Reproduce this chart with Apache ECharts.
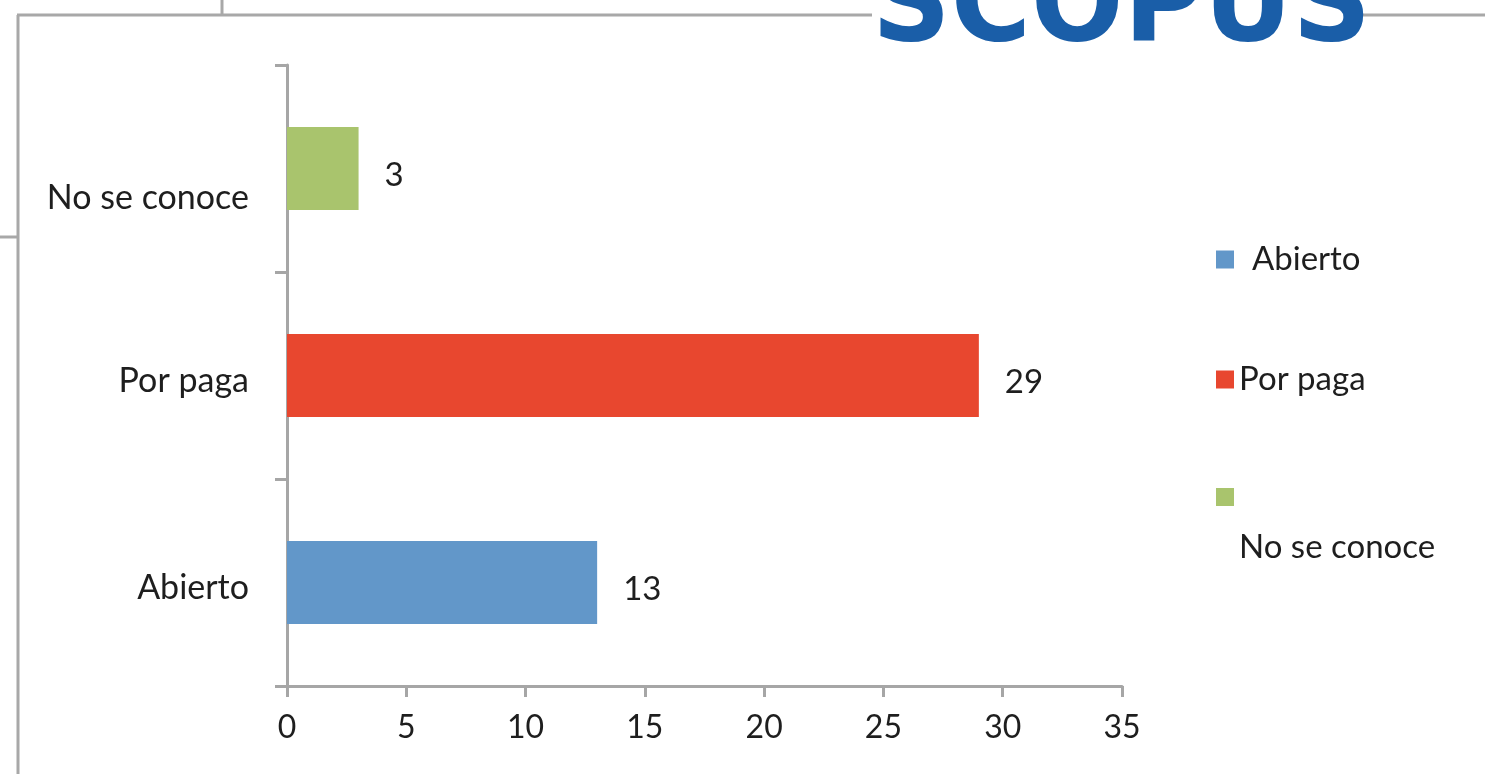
<!DOCTYPE html>
<html>
<head>
<meta charset="utf-8">
<script src="https://cdn.jsdelivr.net/npm/echarts@6/dist/echarts.min.js"></script>
<style>
  html, body { margin: 0; padding: 0; background: #fff; }
  #chart { width: 1485px; height: 774px; }
</style>
</head>
<body>
<div id="chart"></div>
<script>
const categories = ['Abierto', 'Por paga', 'No se conoce']
const values = [13, 29, 3]
const colors = ['#6297c9', '#e8472f', '#a9c46d']
const xTicks = { min: 0, max: 35, interval: 5 }

const FONT = 'Lato, "Open Sans", sans-serif'
const TEXT = '#1e1e1e'
const chart = echarts.init(document.getElementById('chart'), null, { renderer: 'canvas' })

// one series per category so the legend gets one entry each
const series = categories.map((name, i) => ({
  name,
  type: 'bar',
  stack: 'all',
  barWidth: '40%',
  data: categories.map((c, j) => (j === i ? values[i] : '-')),
  itemStyle: { color: colors[i] },
  label: {
    show: true,
    position: 'right',
    distance: 26,
    offset: [0, 7],
    color: TEXT,
    fontFamily: FONT,
    fontSize: 33,
  },
}))

const legendBase = {
  orient: 'vertical',
  left: 1211,
  itemWidth: 18,
  itemHeight: 18,
  icon: 'rect',
  textStyle: {
    color: TEXT,
    fontFamily: FONT,
    fontSize: 33,
    rich: {
      a: { fontFamily: FONT, fontSize: 33, color: TEXT },
      b: { fontFamily: FONT, fontSize: 33, color: TEXT, padding: [0, 0, 0, 13] },
      c: { fontFamily: FONT, fontSize: 33, color: TEXT, padding: [100, 0, 0, 0] },
    },
  },
  formatter: name => {
    if (name === 'Abierto') return '{b|' + name + '}'
    if (name === 'No se conoce') return '{c|' + name + '}'
    return '{a|' + name + '}'
  },
}

const option = {
  animation: false,
  backgroundColor: '#fff',
  grid: { left: 287, right: 363, top: 65, bottom: 88, containLabel: false },
  legend: [
    Object.assign({}, legendBase, { top: 238, itemGap: 87, data: categories.slice(0, 2) }),
    // the last entry wraps its text under the swatch
    Object.assign({}, legendBase, { top: 483, data: categories.slice(2) }),
  ],
  xAxis: {
    type: 'value',
    min: xTicks.min,
    max: xTicks.max,
    interval: xTicks.interval,
    axisLine: { show: true, lineStyle: { color: '#a6a6a6', width: 3 } },
    axisTick: { show: true, length: 11, lineStyle: { color: '#a6a6a6', width: 3 } },
    splitLine: { show: false },
    axisLabel: { color: TEXT, fontFamily: FONT, fontSize: 32, margin: 26 },
  },
  yAxis: {
    type: 'category',
    data: categories,
    axisLine: { show: true, lineStyle: { color: '#a6a6a6', width: 3 } },
    axisTick: { show: true, length: 12, lineStyle: { color: '#a6a6a6', width: 3 } },
    axisLabel: {
      color: TEXT,
      fontFamily: FONT,
      fontSize: 34,
      margin: 38,
      formatter: v => (v === 'No se conoce' ? '{n|' + v + '}' : '{d|' + v + '}'),
      rich: {
        n: { fontFamily: FONT, fontSize: 34, color: TEXT, padding: [60, 0, 0, 0] },
        d: { fontFamily: FONT, fontSize: 34, color: TEXT, padding: [12, 0, 0, 0] },
      },
    },
  },
  graphic: [
    // slide frame lines around the chart
    { type: 'line', shape: { x1: 17, y1: 15, x2: 872, y2: 15 }, style: { stroke: '#a8a8a8', lineWidth: 3 } },
    { type: 'line', shape: { x1: 1360, y1: 15, x2: 1485, y2: 15 }, style: { stroke: '#a8a8a8', lineWidth: 3 } },
    { type: 'line', shape: { x1: 18, y1: 15, x2: 18, y2: 774 }, style: { stroke: '#a8a8a8', lineWidth: 3 } },
    { type: 'line', shape: { x1: 222, y1: 0, x2: 222, y2: 15 }, style: { stroke: '#a8a8a8', lineWidth: 3 } },
    { type: 'line', shape: { x1: 0, y1: 237, x2: 17, y2: 237 }, style: { stroke: '#a8a8a8', lineWidth: 3 } },
    // cropped logo at the top
    {
      type: 'text',
      x: 872,
      y: 68,
      scaleX: 0.95,
      style: {
        text: 'SCOPUS',
        fill: '#1a5ea8',
        font: 'bold 115px "DejaVu Sans"',
        verticalAlign: 'bottom',
      },
    },
  ],
  series,
}

chart.setOption(option)
window.addEventListener('resize', () => chart.resize())
</script>
</body>
</html>
